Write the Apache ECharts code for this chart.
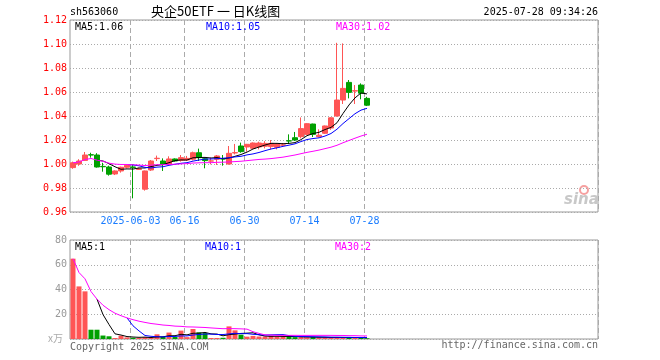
<!DOCTYPE html>
<html><head><meta charset="utf-8">
<script src="https://cdn.jsdelivr.net/npm/echarts@6/dist/echarts.min.js"></script>
<style>html,body{margin:0;padding:0;background:#fff}#c{width:660px;height:360px}</style>
</head><body><div id="c"></div>
<script>
// ---- data ----
const dates = ['05-19','05-20','05-21','05-22','05-23','05-26','05-27','05-28','05-29','05-30',
  '06-03','06-04','06-05','06-06','06-09','06-10','06-11','06-12','06-13','06-16',
  '06-17','06-18','06-19','06-20','06-23','06-24','06-25','06-26','06-27','06-30',
  '07-01','07-02','07-03','07-04','07-07','07-08','07-09','07-10','07-11','07-14',
  '07-15','07-16','07-17','07-18','07-21','07-22','07-23','07-24','07-25','07-28'];
const opens = [0.997,1.000,1.003,1.0077,1.0075,0.998,0.9975,0.9917,0.9942,0.9973,
  0.9975,0.9955,0.979,0.995,1.0045,1.0025,1.000,1.0042,1.003,1.0033,
  1.004,1.0094,1.0044,1.0024,1.004,1.0043,1.000,1.0092,1.015,1.0142,
  1.0131,1.0142,1.0148,1.0145,1.0139,1.0157,1.0193,1.0219,1.0228,1.0247,
  1.0333,1.0228,1.0256,1.030,1.040,1.0533,1.068,1.0608,1.0658,1.0547];
const closes = [1.001,1.0025,1.0075,1.0075,0.9975,0.9977,0.9915,0.9942,0.9973,0.9989,
  0.9972,0.996,0.9942,1.0025,1.0048,1.000,1.0042,1.0025,1.0053,1.0047,
  1.0094,1.0053,1.0028,1.0026,1.0067,1.0042,1.0089,1.0095,1.0103,1.0164,
  1.0175,1.0175,1.0172,1.0172,1.0167,1.0159,1.0192,1.020,1.0295,1.0336,
  1.0247,1.024,1.0317,1.0385,1.0533,1.063,1.0597,1.0611,1.059,1.049];
const lows = [0.996,0.9985,1.0025,1.0053,0.997,0.9936,0.9903,0.9908,0.9928,0.9964,
  0.9714,0.995,0.9778,0.9942,1.0025,0.9942,0.999,1.002,1.002,1.0025,
  1.003,1.0025,0.9964,0.9997,0.9992,0.9986,0.9995,1.008,1.0094,1.0103,
  1.0125,1.0122,1.013,1.0122,1.0122,1.0142,1.0167,1.0192,1.0214,1.024,
  1.0225,1.0222,1.025,1.0285,1.0395,1.050,1.0547,1.050,1.0539,1.0483];
const highs = [1.002,1.004,1.010,1.0094,1.009,1.001,0.9986,0.9947,0.9978,0.9994,
  0.9997,0.997,0.9945,1.0033,1.007,1.0047,1.0064,1.0047,1.0075,1.0067,
  1.0103,1.0128,1.0053,1.0053,1.0075,1.0075,1.015,1.0167,1.0178,1.0167,
  1.018,1.0186,1.019,1.020,1.0175,1.0175,1.0247,1.0267,1.0388,1.034,
  1.0336,1.0289,1.032,1.039,1.101,1.1005,1.070,1.0658,1.0672,1.056];
const volumes = [64.9,42.5,38.5,7.5,7.5,2.8,2.2,0.8,2.7,1.3,
  1.0,1.0,1.5,1.0,3.8,1.6,5.2,1.6,6.8,1.5,
  8.1,5.4,4.8,0.8,0.8,1.0,10.2,7.0,3.5,1.9,
  2.5,2.0,2.0,2.5,2.0,2.0,1.8,1.5,1.5,1.3,
  1.5,1.2,1.2,1.0,1.5,1.3,1.2,0.9,1.0,0.6];
const tickDates = ['06-03','06-16','06-30','07-14','07-28'];
const tickLabels = ['2025-06-03','06-16','06-30','07-14','07-28'];
const priceLegend = ['MA5:1.06','MA10:1.05','MA30:1.02'];
const volLegend = ['MA5:1','MA10:1','MA30:2'];
const totalSlots = 88;

// ---- helpers ----
function ma(arr, n, partial) {
  return arr.map((_, i) => {
    if (i < n - 1 && !partial) return '-';
    const s = Math.max(0, i - n + 1);
    let sum = 0; for (let j = s; j <= i; j++) sum += arr[j];
    return +(sum / (i - s + 1)).toFixed(4);
  });
}
const RED = '#ff5555', GREEN = '#00a000';
const cats = dates.concat(Array.from({length: totalSlots - dates.length}, (_, i) => 'x' + i));
const tickIdx = tickDates.map(d => dates.indexOf(d));
const kData = dates.map((_, i) => [opens[i], closes[i], lows[i], highs[i]]);
const volData = volumes.map((v, i) => ({value: v, itemStyle: {color: closes[i] >= opens[i] ? RED : GREEN}}));
const MONO = '"DejaVu Sans Mono", "Liberation Mono", monospace';

const xCommon = (gi, showLabels) => ({
  type: 'category', gridIndex: gi, data: cats, boundaryGap: true,
  axisLine: {show: false}, axisTick: {show: false},
  axisLabel: {show: showLabels, interval: (i) => tickIdx.includes(i),
    formatter: (v, i) => { const k = tickIdx.indexOf(i); return k >= 0 ? tickLabels[k] : ''; },
    color: '#1a7cff', fontFamily: MONO, fontSize: 10, margin: 4, padding: [0, 5, 0, 0]},
  splitLine: {show: true, interval: (i) => tickIdx.includes(i),
    lineStyle: {color: '#aaa', type: [5, 3], width: 1}}
});

const option = {
  animation: false,
  backgroundColor: '#fff',
  grid: [
    {left: 70, right: 62, top: 20, height: 192, show: true, borderColor: '#999', borderWidth: 1},
    {left: 70, right: 62, top: 240, height: 99, show: true, borderColor: '#999', borderWidth: 1}
  ],
  xAxis: [xCommon(0, true), xCommon(1, false)],
  yAxis: [
    {type: 'value', gridIndex: 0, min: 0.96, max: 1.12, interval: 0.02,
      axisLine: {show: false}, axisTick: {show: false},
      axisLabel: {color: '#ff0000', fontFamily: MONO, fontSize: 10, margin: 3, formatter: v => v.toFixed(2)},
      splitLine: {show: true, lineStyle: {color: '#aaa', type: [1, 2]}}},
    {type: 'value', gridIndex: 1, min: 0, max: 80, interval: 20,
      axisLine: {show: false}, axisTick: {show: false},
      axisLabel: {color: '#999', fontFamily: MONO, fontSize: 10, margin: 3, formatter: v => v === 0 ? '' : String(v)},
      splitLine: {show: true, lineStyle: {color: '#aaa', type: [1, 2]}}}
  ],
  series: [
    {type: 'candlestick', xAxisIndex: 0, yAxisIndex: 0, data: kData, barWidth: 5,
      itemStyle: {color: RED, color0: GREEN, borderColor: RED, borderColor0: GREEN, borderWidth: 1}},
    {type: 'line', xAxisIndex: 0, yAxisIndex: 0, data: ma(closes, 5), symbol: 'none', lineStyle: {color: '#000', width: 1}, z: 5},
    {type: 'line', xAxisIndex: 0, yAxisIndex: 0, data: ma(closes, 10), symbol: 'none', lineStyle: {color: '#0000ff', width: 1}, z: 5},
    {type: 'line', xAxisIndex: 0, yAxisIndex: 0, data: ma(closes, 30, true), symbol: 'none', lineStyle: {color: '#ff00ff', width: 1}, z: 5},
    {type: 'bar', xAxisIndex: 1, yAxisIndex: 1, data: volData, barWidth: 5},
    {type: 'line', xAxisIndex: 1, yAxisIndex: 1, data: ma(volumes, 5), symbol: 'none', lineStyle: {color: '#000', width: 1}, z: 5},
    {type: 'line', xAxisIndex: 1, yAxisIndex: 1, data: ma(volumes, 10), symbol: 'none', lineStyle: {color: '#0000ff', width: 1}, z: 5},
    {type: 'line', xAxisIndex: 1, yAxisIndex: 1, data: ma(volumes, 30, true), symbol: 'none', lineStyle: {color: '#ff00ff', width: 1}, z: 5}
  ],
  graphic: [
    {type: 'text', left: 70, top: 7, style: {text: 'sh563060', fill: '#000', font: '10px ' + MONO}},
    {type: 'text', left: 151, top: 5, style: {text: '央企50ETF 一 日K线图', fill: '#000', font: '13px "Noto Sans CJK SC"'}},
    {type: 'text', right: 62, top: 7, style: {text: '2025-07-28 09:34:26', fill: '#000', font: '10px ' + MONO}},
    {type: 'text', left: 75, top: 22, z: 10, style: {text: priceLegend[0], fill: '#000', font: '10px ' + MONO}},
    {type: 'text', left: 206, top: 22, z: 10, style: {text: priceLegend[1], fill: '#0000ff', font: '10px ' + MONO}},
    {type: 'text', left: 336, top: 22, z: 10, style: {text: priceLegend[2], fill: '#ff00ff', font: '10px ' + MONO}},
    {type: 'text', left: 75, top: 242, z: 10, style: {text: volLegend[0], fill: '#000', font: '10px ' + MONO}},
    {type: 'text', left: 205, top: 242, z: 10, style: {text: volLegend[1], fill: '#0000ff', font: '10px ' + MONO}},
    {type: 'text', left: 335, top: 242, z: 10, style: {text: volLegend[2], fill: '#ff00ff', font: '10px ' + MONO}},
    {type: 'text', left: 48, top: 333, style: {text: 'x万', fill: '#aaa', font: '10px "Noto Sans CJK SC"'}},
    {type: 'text', left: 70, top: 342, style: {text: 'Copyright 2025 SINA.COM', fill: '#666', font: '10px ' + MONO}},
    {type: 'text', right: 62, top: 340, style: {text: 'http://finance.sina.com.cn', fill: '#666', font: '10px ' + MONO}},
    {type: 'circle', shape: {cx: 584, cy: 190, r: 4}, style: {fill: 'none', stroke: '#f6a0a0', lineWidth: 2}},
    {type: 'text', left: 564, top: 193, style: {text: 'sina', fill: '#c8c8c8', font: 'italic bold 15px "DejaVu Sans"'}}
  ]
};
echarts.init(document.getElementById('c')).setOption(option);
</script>
</body></html>
